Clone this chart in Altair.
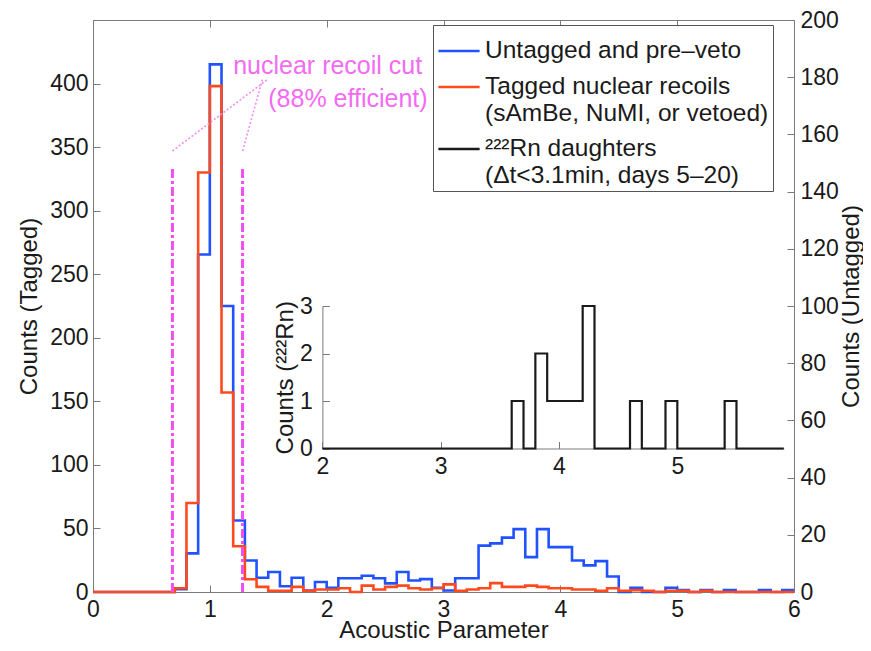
import altair as alt
import pandas as pd

FONT = "Liberation Sans"

# ---------------- data ----------------
bin_width = 0.1
bin_lefts = [round(i * 0.1, 1) for i in range(60)]

# untagged & pre-veto (right axis, counts)
untagged = [0, 0, 0, 0, 0, 0, 0, 1, 13.5, 118, 184.5, 100, 25, 11, 5, 7, 2, 5, 0.5, 3.5,
            1.5, 4.8, 4.8, 5.7, 4.8, 3, 7, 4, 4.5, 1.5,
            0.5, 4.8, 4.8, 16.2, 17, 19, 22, 12.2, 22, 15.7,
            15.7, 11, 9.3, 10.8, 5.4, 0, 1.5, 0, 0, 1.5,
            0.7, 0, 0.7, 0, 0.7, 0, 0, 0.7, 0, 0.7]

# tagged nuclear recoils (left axis, counts)
tagged = [0, 0, 0, 0, 0, 0, 0, 3, 70, 330, 398, 157, 36, 10, 4, 1, 1, 4, 1, 2,
          2, 3, 0, 5, 2, 4, 5, 3, 2, 3,
          6, 1, 2, 3, 7, 4, 4, 5, 4, 3,
          3, 2, 2, 1, 3, 1, 1.5, 1, 0, 1,
          1, 0, 1, 0, 0, 0, 0, 0, 0, 0]

# 222Rn daughters (inset), bins from 2.0 to 5.9
rn_lefts = [round(2.0 + i * 0.1, 1) for i in range(39)]
rn_counts = [0, 0, 0, 0, 0, 0, 0, 0, 0, 0, 0, 0, 0, 0, 0, 0,
             1, 0, 2, 1, 1, 1, 3, 0, 0, 0, 1, 0, 0, 1, 0, 0, 0, 0, 1, 0, 0, 0, 0]

series_names = ["Untagged and pre\u2013veto",
                "Tagged nuclear recoils|(sAmBe, NuMI, or vetoed)",
                "\u00b2\u00b2\u00b2Rn daughters|(\u0394t<3.1min, days 5\u201320)"]
series_colors = ["#2152ff", "#ff4a1f", "#1a1a1a"]

x_ticks = [0, 1, 2, 3, 4, 5, 6]
left_ticks = [0, 50, 100, 150, 200, 250, 300, 350, 400]
right_ticks = [0, 20, 40, 60, 80, 100, 120, 140, 160, 180, 200]
inset_x_ticks = [2, 3, 4, 5]
inset_y_ticks = [0, 1, 2, 3]

cut_x = [0.68, 1.28]
cut_top = [333, 333]
diag_x = [0.68, 1.28]
diag_y = [347, 347]
diag_x2 = [1.49, 1.45]
diag_y2 = [403, 403]
note_x = [1.2, 1.5]
note_y = [414, 388]
note_text = ["nuclear recoil cut", "(88% efficient)"]


def steps(lefts, counts, width, name):
    xs = list(lefts) + [round(lefts[-1] + width, 2)]
    ys = list(counts) + [counts[-1]]
    return pd.DataFrame({"x": xs, "y": ys, "series": name})


df_blue = steps(bin_lefts, untagged, bin_width, series_names[0])
df_red = steps(bin_lefts, tagged, bin_width, series_names[1])
df_rn = steps(rn_lefts, rn_counts, bin_width, series_names[2])
df_cut = pd.DataFrame({"x": cut_x, "y0": [0, 0], "y1": cut_top})
df_diag = pd.DataFrame({"x": diag_x, "y": diag_y, "x2": diag_x2, "y2": diag_y2})
df_note = pd.DataFrame({"x": note_x, "y": note_y, "label": note_text})
df_top = pd.DataFrame({"x": x_ticks})

W, H = 701, 572

# ---------------- styling ----------------
AX = dict(domainColor="#7a7a7a", tickColor="#7a7a7a", labelColor="#1a1a1a",
          titleColor="#1a1a1a", labelFont=FONT, titleFont=FONT, labelFontSize=23,
          titleFontSize=24, titleFontWeight="normal", grid=False,
          tickSize={"expr": "-7"}, domainWidth=1, tickWidth=1)

x_axis = alt.Axis(orient="bottom", values=x_ticks, title="Acoustic Parameter",
                  labelFlush=False, labelPadding=13, titleX=W / 2, titleY=45,
                  titleBaseline="alphabetic", titleAlign="center", **AX)
left_axis = alt.Axis(orient="left", values=left_ticks, title="Counts (Tagged)",
                     labelPadding=12, titleX=-64, titleY=H / 2, titleAngle=270,
                     titleBaseline="middle", titleAlign="center", **AX)
right_axis = alt.Axis(orient="right", values=right_ticks, title="Counts (Untagged)",
                      labelPadding=13, titleX=57, titleY=H / 2, titleAngle=270,
                      titleBaseline="middle", titleAlign="center", **AX)
top_axis = alt.Axis(orient="top", values=x_ticks, labels=False, title=None, **AX)
inset_x_axis = alt.Axis(orient="bottom", values=inset_x_ticks, title=None, offset=-143.5,
                        labelFlush=False, labelPadding=14, **AX)
inset_y_axis = alt.Axis(orient="left", values=inset_y_ticks,
                        title="Counts (\u00b2\u00b2\u00b2Rn)", offset=-229.4,
                        labelPadding=17, titlePadding=2, **AX)

x_scale = alt.Scale(domain=[0, 6], nice=False, zero=False)
left_scale = alt.Scale(domain=[0, 450], nice=False)
right_scale = alt.Scale(domain=[0, 200], nice=False)

color_enc = alt.Color(
    "series:N",
    scale=alt.Scale(domain=series_names, range=series_colors),
    legend=alt.Legend(title=None, orient="none", legendX=340, legendY=5,
                      symbolType="stroke", symbolSize=1700, symbolStrokeWidth=2.5,
                      labelFont=FONT, labelFontSize=24.5, labelColor="#1a1a1a",
                      labelLimit=600, labelExpr="split(datum.label, '|')",
                      strokeColor="#555", fillColor="white", padding=4,
                      rowPadding=2, labelOffset=4),
)

blue = alt.Chart(df_blue).mark_line(interpolate="step-after", strokeWidth=2.6).encode(
    x=alt.X("x:Q", scale=x_scale, axis=x_axis),
    y=alt.Y("y:Q", scale=right_scale, axis=right_axis),
    color=color_enc,
)

red = alt.Chart(df_red).mark_line(interpolate="step-after", strokeWidth=2.6).encode(
    x=alt.X("x:Q", scale=x_scale, axis=x_axis),
    y=alt.Y("y:Q", scale=left_scale, axis=left_axis),
    color=color_enc,
)

cuts = alt.Chart(df_cut).mark_rule(color="#f04ef0", strokeWidth=3,
                                   strokeDash=[9, 3, 3, 3]).encode(
    x=alt.X("x:Q", scale=x_scale, axis=x_axis),
    y=alt.Y("y0:Q", scale=left_scale, axis=left_axis),
    y2="y1:Q",
)

diag = alt.Chart(df_diag).mark_rule(color="#f38ef3", strokeWidth=1.6,
                                    strokeDash=[2, 2]).encode(
    x=alt.X("x:Q", scale=x_scale, axis=x_axis),
    y=alt.Y("y:Q", scale=left_scale, axis=left_axis),
    x2="x2:Q",
    y2="y2:Q",
)

notes = alt.Chart(df_note).mark_text(align="left", baseline="middle", font=FONT,
                                     fontSize=25, color="#f36af3").encode(
    x=alt.X("x:Q", scale=x_scale, axis=x_axis),
    y=alt.Y("y:Q", scale=left_scale, axis=left_axis),
    text="label:N",
)

left_group = alt.layer(red, cuts, diag, notes)
main = alt.layer(blue, left_group).resolve_scale(y="independent")

inset = alt.Chart(df_rn).mark_line(interpolate="step-after", strokeWidth=2.2).encode(
    x=alt.X("x:Q", scale=alt.Scale(domain=[2, 5.9], range=[229.4, 690.8], nice=False,
                                   zero=False), axis=inset_x_axis),
    y=alt.Y("y:Q", scale=alt.Scale(domain=[0, 3], range=[428.5, 286], nice=False),
            axis=inset_y_axis),
    color=color_enc,
)

top = alt.Chart(df_top).mark_point(opacity=0).encode(
    x=alt.X("x:Q", scale=x_scale, axis=top_axis),
)

chart = alt.layer(main, inset, top).resolve_scale(
    x="independent", y="independent"
).properties(
    width=W, height=H,
    autosize=alt.AutoSizeParams(type="none"),
    padding={"left": 85, "top": 12, "right": 69, "bottom": 50},
).configure_view(stroke=None).configure(background="white")

chart.save("out.html", embed_options={"renderer": "svg", "actions": False})
